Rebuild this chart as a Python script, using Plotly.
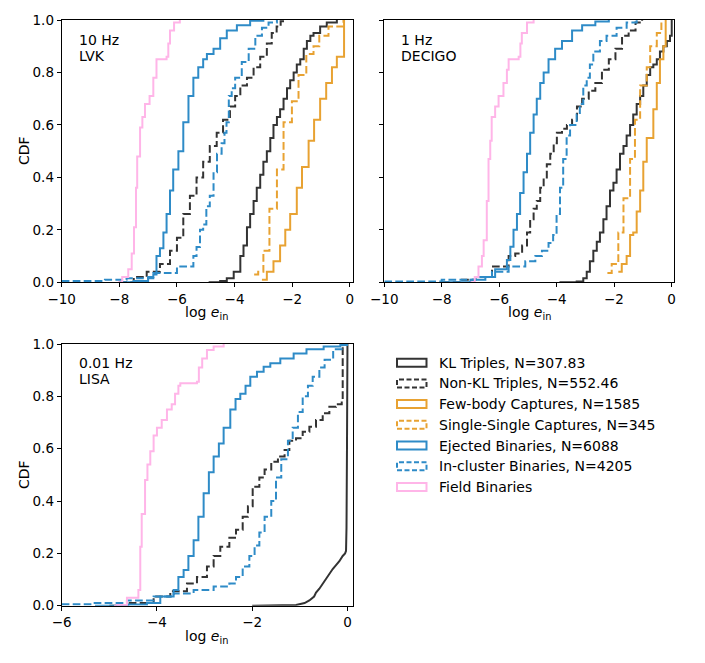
import plotly.graph_objects as go

# Cumulative distributions of log e_in (step CDFs).
# Each curve: x = bin edge where the CDF steps, y = CDF value after the step.

# ---- 10 Hz, LVK ----
lvk_kl_x = [-4.9, -4.5, -4.27, -4.03, -3.8, -3.69, -3.57, -3.46, -3.34, -3.23, -3.11, -3.0, -2.88, -2.76, -2.65,
            -2.53, -2.42, -2.3, -2.18, -2.07, -1.95, -1.84, -1.72, -1.6, -1.49, -1.37, -1.26, -1.03, -0.8, -0.45]
lvk_kl_y = [0.0, 0.005, 0.015, 0.04, 0.10, 0.14, 0.21, 0.26, 0.31, 0.36, 0.41, 0.46, 0.50, 0.55, 0.60,
            0.63, 0.66, 0.70, 0.74, 0.77, 0.80, 0.83, 0.85, 0.89, 0.92, 0.94, 0.95, 0.975, 0.99, 1.0]
lvk_nonkl_x = [-8.0, -7.5, -7.05, -6.59, -6.24, -6.0, -5.78, -5.55, -5.32, -5.09, -4.86, -4.62, -4.4, -4.16,
               -3.98, -3.8, -3.57, -3.34, -3.11, -2.88, -2.71, -2.54, -2.4, -2.24]
lvk_nonkl_y = [0.0, 0.02, 0.04, 0.07, 0.12, 0.17, 0.26, 0.33, 0.40, 0.46, 0.52, 0.57, 0.62, 0.67,
               0.71, 0.75, 0.78, 0.82, 0.86, 0.91, 0.95, 0.975, 0.995, 1.0]
lvk_few_x = [-3.05, -2.88, -2.65, -2.42, -2.24, -2.07, -1.84, -1.66, -1.43, -1.24, -1.03, -0.82, -0.62, -0.45, -0.2]
lvk_few_y = [0.01, 0.04, 0.08, 0.14, 0.20, 0.26, 0.36, 0.44, 0.54, 0.62, 0.70, 0.76, 0.82, 0.86, 1.0]
lvk_ss_x = [-3.32, -3.18, -3.0, -2.79, -2.53, -2.3, -2.01, -1.78, -1.51, -1.26, -1.06, -0.74, -0.22]
lvk_ss_y = [0.03, 0.04, 0.12, 0.28, 0.43, 0.61, 0.69, 0.79, 0.87, 0.90, 0.94, 0.975, 1.0]
lvk_ej_x = [-8.0, -7.5, -7.0, -6.82, -6.71, -6.59, -6.47, -6.36, -6.24, -6.13, -5.95, -5.78, -5.6, -5.43,
            -5.26, -5.09, -4.96, -4.73, -4.5, -4.27, -3.92, -3.46, -3.0]
lvk_ej_y = [0.0, 0.005, 0.02, 0.03, 0.10, 0.13, 0.19, 0.26, 0.35, 0.43, 0.50, 0.61, 0.71, 0.78,
            0.82, 0.85, 0.87, 0.89, 0.93, 0.96, 0.98, 0.997, 1.0]
lvk_in_x = [-10.0, -8.5, -7.75, -6.82, -6.0, -5.43, -5.32, -5.2, -5.09, -4.98, -4.86, -4.73, -4.61, -4.45,
            -4.35, -4.28, -4.2, -4.1, -3.98, -3.75, -3.51, -3.28, -3.05, -2.82, -2.53]
lvk_in_y = [0.005, 0.01, 0.015, 0.035, 0.06, 0.10, 0.135, 0.20, 0.22, 0.29, 0.33, 0.42, 0.49, 0.53,
            0.57, 0.61, 0.71, 0.74, 0.78, 0.84, 0.89, 0.94, 0.97, 0.99, 1.0]
lvk_field_x = [-8.05, -7.9, -7.69, -7.57, -7.49, -7.42, -7.38, -7.28, -7.2, -7.11, -6.95, -6.82, -6.71,
               -6.36, -6.3, -6.24, -6.1, -5.9]
lvk_field_y = [0.0, 0.02, 0.05, 0.11, 0.21, 0.36, 0.48, 0.59, 0.63, 0.68, 0.71, 0.78, 0.85,
               0.86, 0.91, 0.96, 0.99, 1.0]

# ---- 1 Hz, DECIGO ----
dec_kl_x = [-3.9, -3.3, -3.07, -2.95, -2.84, -2.72, -2.6, -2.49, -2.37, -2.26, -2.14, -2.02, -1.91, -1.79, -1.67,
            -1.56, -1.44, -1.33, -1.21, -1.09, -0.98, -0.86, -0.74, -0.63, -0.51, -0.4, -0.28, -0.16, -0.05, 0.01]
dec_kl_y = [0.0, 0.003, 0.015, 0.04, 0.08, 0.12, 0.155, 0.19, 0.24, 0.29, 0.35, 0.38, 0.43, 0.49, 0.52,
            0.56, 0.60, 0.64, 0.68, 0.71, 0.75, 0.79, 0.82, 0.83, 0.85, 0.88, 0.90, 0.92, 0.94, 1.0]
dec_nonkl_x = [-8.0, -7.3, -6.83, -6.25, -5.67, -5.44, -5.2, -5.03, -4.92, -4.8, -4.69, -4.57, -4.45, -4.34,
               -4.22, -4.1, -3.99, -3.81, -3.64, -3.46, -3.29, -3.11, -2.88, -2.65, -2.42, -2.18, -1.95,
               -1.72, -1.49, -1.25, -1.02]
dec_nonkl_y = [0.0, 0.01, 0.02, 0.06, 0.10, 0.11, 0.14, 0.19, 0.24, 0.28, 0.31, 0.36, 0.40, 0.45,
               0.49, 0.53, 0.57, 0.585, 0.60, 0.62, 0.67, 0.70, 0.73, 0.76, 0.81, 0.85, 0.89,
               0.94, 0.96, 0.99, 1.0]
dec_few_x = [-1.85, -1.73, -1.56, -1.44, -1.33, -1.21, -1.09, -0.98, -0.86, -0.63, -0.51, -0.4, -0.28, -0.2]
dec_few_y = [0.04, 0.07, 0.10, 0.18, 0.19, 0.27, 0.35, 0.46, 0.55, 0.66, 0.76, 0.85, 0.90, 1.0]
dec_ss_x = [-2.23, -2.08, -1.85, -1.67, -1.44, -1.27, -1.09, -0.86, -0.74, -0.51, -0.35]
dec_ss_y = [0.035, 0.07, 0.19, 0.32, 0.47, 0.62, 0.75, 0.82, 0.90, 0.95, 1.0]
dec_ej_x = [-8.0, -7.0, -6.48, -6.14, -5.73, -5.61, -5.5, -5.38, -5.27, -5.15, -5.03, -4.92, -4.8, -4.69,
            -4.57, -4.45, -4.28, -4.05, -3.81, -3.46, -3.11, -2.65, -2.18]
dec_ej_y = [0.0, 0.01, 0.02, 0.05, 0.085, 0.136, 0.20, 0.26, 0.34, 0.42, 0.49, 0.57, 0.64, 0.70,
            0.76, 0.80, 0.85, 0.89, 0.92, 0.96, 0.98, 0.994, 1.0]
dec_in_x = [-10.0, -8.0, -6.83, -6.25, -5.67, -5.09, -4.74, -4.51, -4.28, -4.12, -4.0, -3.88, -3.77, -3.65,
            -3.53, -3.3, -3.19, -3.07, -2.95, -2.84, -2.72, -2.49, -2.26, -1.91, -1.56, -1.21]
dec_in_y = [0.003, 0.01, 0.02, 0.04, 0.06, 0.08, 0.10, 0.12, 0.15, 0.18, 0.26, 0.36, 0.47, 0.56,
            0.60, 0.64, 0.68, 0.75, 0.78, 0.83, 0.88, 0.92, 0.94, 0.97, 0.99, 1.0]
dec_field_x = [-7.0, -6.85, -6.72, -6.6, -6.54, -6.43, -6.37, -6.31, -6.26, -6.14, -6.02, -5.85, -5.73,
               -5.67, -5.32, -5.26, -5.21, -5.03, -4.8]
dec_field_y = [0.0, 0.02, 0.06, 0.10, 0.16, 0.31, 0.47, 0.54, 0.63, 0.67, 0.71, 0.76, 0.81,
               0.85, 0.86, 0.91, 0.95, 0.99, 1.0]

# ---- 0.01 Hz, LISA ----
lisa_kl_x = [-2.0, -1.5, -1.08, -0.9, -0.8, -0.7, -0.66, -0.59, -0.52, -0.45, -0.38, -0.31, -0.24, -0.17,
             -0.1, -0.05, -0.03, -0.02, -0.01, 0.0]
lisa_kl_y = [0.0, 0.001, 0.003, 0.01, 0.02, 0.035, 0.05, 0.065, 0.085, 0.10, 0.12, 0.14, 0.155, 0.17,
             0.19, 0.20, 0.21, 0.30, 0.60, 1.0]
lisa_nonkl_x = [-5.0, -4.63, -4.07, -3.72, -3.37, -3.16, -2.95, -2.81, -2.67, -2.48, -2.34, -2.2, -2.09, -1.99,
                -1.85, -1.74, -1.6, -1.46, -1.32, -1.22, -1.08, -0.94, -0.8, -0.66, -0.52, -0.38, -0.24,
                -0.12, -0.1]
lisa_nonkl_y = [0.0, 0.01, 0.035, 0.055, 0.085, 0.11, 0.15, 0.19, 0.225, 0.26, 0.29, 0.34, 0.38, 0.455,
                0.49, 0.52, 0.55, 0.57, 0.595, 0.63, 0.64, 0.665, 0.684, 0.71, 0.735, 0.76, 0.77,
                0.786, 1.0]
lisa_ej_x = [-5.3, -4.6, -4.21, -3.93, -3.65, -3.55, -3.44, -3.34, -3.23, -3.13, -3.02, -2.91, -2.81, -2.7,
             -2.6, -2.46, -2.35, -2.25, -2.14, -2.04, -1.9, -1.76, -1.62, -1.41, -1.13, -0.86, -0.5, -0.15, -0.01]
lisa_ej_y = [0.0, 0.005, 0.01, 0.035, 0.06, 0.11, 0.136, 0.19, 0.25, 0.34, 0.43, 0.51, 0.57, 0.62,
             0.68, 0.75, 0.79, 0.81, 0.84, 0.875, 0.894, 0.913, 0.926, 0.945, 0.964, 0.98, 0.99, 0.996, 1.0]
lisa_in_x = [-6.0, -5.33, -4.63, -4.07, -3.65, -3.23, -2.81, -2.48, -2.34, -2.2, -2.06, -1.95, -1.85, -1.74,
             -1.6, -1.5, -1.39, -1.25, -1.15, -1.04, -0.94, -0.83, -0.73, -0.59, -0.48, -0.3, -0.1]
lisa_in_y = [0.006, 0.01, 0.02, 0.035, 0.047, 0.06, 0.073, 0.085, 0.11, 0.15, 0.19, 0.23, 0.28, 0.34,
             0.40, 0.49, 0.56, 0.63, 0.68, 0.74, 0.80, 0.84, 0.875, 0.91, 0.94, 0.98, 1.0]
lisa_field_x = [-4.9, -4.84, -4.63, -4.39, -4.35, -4.32, -4.25, -4.2, -4.14, -4.07, -4.0, -3.9, -3.79, -3.69,
                -3.62, -3.55, -3.51, -3.16, -3.12, -3.05, -2.95, -2.81, -2.6]
lisa_field_y = [0.0, 0.003, 0.03, 0.06, 0.225, 0.35, 0.48, 0.54, 0.59, 0.65, 0.68, 0.71, 0.75, 0.77,
                0.81, 0.84, 0.85, 0.856, 0.91, 0.945, 0.977, 0.99, 1.0]

legend_labels = ["KL Triples, N=307.83", "Non-KL Triples, N=552.46", "Few-body Captures, N=1585",
                 "Single-Single Captures, N=345", "Ejected Binaries, N=6088", "In-cluster Binaries, N=4205",
                 "Field Binaries"]

# style per population (same order as legend)
BLACK, ORANGE, BLUE, PINK = "#333333", "#E8A232", "#2E8BC7", "#FFB5E8"
styles = [(BLACK, "solid"), (BLACK, "7.7px,3.3px"), (ORANGE, "solid"), (ORANGE, "7.7px,3.3px"),
          (BLUE, "solid"), (BLUE, "7.7px,3.3px"), (PINK, "solid")]

panels = [
    ("x", "y", [(lvk_kl_x, lvk_kl_y), (lvk_nonkl_x, lvk_nonkl_y), (lvk_few_x, lvk_few_y), (lvk_ss_x, lvk_ss_y),
                (lvk_ej_x, lvk_ej_y), (lvk_in_x, lvk_in_y), (lvk_field_x, lvk_field_y)]),
    ("x2", "y2", [(dec_kl_x, dec_kl_y), (dec_nonkl_x, dec_nonkl_y), (dec_few_x, dec_few_y), (dec_ss_x, dec_ss_y),
                  (dec_ej_x, dec_ej_y), (dec_in_x, dec_in_y), (dec_field_x, dec_field_y)]),
    ("x3", "y3", [(lisa_kl_x, lisa_kl_y), (lisa_nonkl_x, lisa_nonkl_y), None, None,
                  (lisa_ej_x, lisa_ej_y), (lisa_in_x, lisa_in_y), (lisa_field_x, lisa_field_y)]),
]

W, H = 705, 663
FONT = "DejaVu Sans"


def px(x):
    return x / W


def py(y):
    return 1 - y / H


fig = go.Figure()

for xa, ya, curves in panels:
    for i, c in enumerate(curves):
        if c is None:
            continue
        color, dash = styles[i]
        shape = "linear" if (xa == "x3" and i == 0) else "hv"
        fig.add_trace(go.Scatter(
            x=c[0], y=c[1], xaxis=xa, yaxis=ya, mode="lines",
            line=dict(color=color, width=2, dash=dash, shape=shape),
            showlegend=False, hoverinfo="skip"
        ))

ax_common = dict(showline=True, mirror=True, linecolor="black", linewidth=1, ticks="outside",
                 ticklen=4, tickwidth=1, tickcolor="black", showgrid=False, zeroline=False,
                 automargin=False, tickfont=dict(family=FONT, size=13.5, color="black"))

top_dom = [py(282.3), py(20)]
bot_dom = [py(605.7), py(344)]
left_dom = [px(61.7), px(352.7)]
right_dom = [px(384.3), px(674.3)]

xt10 = [-10, -8, -6, -4, -2, 0]
xt6 = [-6, -4, -2, 0]
lab = lambda v: ("\u2212" + str(-v)) if v < 0 else str(v)

fig.update_layout(
    width=W, height=H, margin=dict(l=0, r=0, t=0, b=0, autoexpand=False),
    plot_bgcolor="white", paper_bgcolor="white",
    xaxis=dict(domain=left_dom, range=[-10, 0.1], anchor="y", tickvals=xt10,
               ticktext=[lab(v) for v in xt10], **ax_common),
    yaxis=dict(domain=top_dom, range=[0, 1], anchor="x", tickvals=[0, 0.2, 0.4, 0.6, 0.8, 1.0],
               tickformat=".1f", **ax_common),
    xaxis2=dict(domain=right_dom, range=[-10, 0.1], anchor="y2", tickvals=xt10,
                ticktext=[lab(v) for v in xt10], **ax_common),
    yaxis2=dict(domain=top_dom, range=[0, 1], anchor="x2", tickvals=[0, 0.2, 0.4, 0.6, 0.8, 1.0],
                showticklabels=False, **ax_common),
    xaxis3=dict(domain=left_dom, range=[-6, 0.11], anchor="y3", tickvals=xt6,
                ticktext=[lab(v) for v in xt6], **ax_common),
    yaxis3=dict(domain=bot_dom, range=[0, 1], anchor="x3", tickvals=[0, 0.2, 0.4, 0.6, 0.8, 1.0],
                tickformat=".1f", **ax_common),
)

txt = dict(family=FONT, size=14, color="black")
annots = []
# axis labels
for cx, cy in [(207, 313), (529, 313), (207, 637)]:
    annots.append(dict(x=px(cx), y=py(cy), xref="paper", yref="paper", showarrow=False,
                       text="log <i>e</i><sub>in</sub>", font=txt, xanchor="center", yanchor="middle"))
for cy in [151, 475]:
    annots.append(dict(x=px(24), y=py(cy), xref="paper", yref="paper", showarrow=False,
                       text="CDF", font=txt, textangle=-90, xanchor="center", yanchor="middle"))
# panel tags
for tx, ty, t in [(77, 40, "10 Hz"), (77, 55.5, "LVK"), (399, 40, "1 Hz"), (399, 55.5, "DECIGO"),
                  (77, 363, "0.01 Hz"), (77, 379, "LISA")]:
    annots.append(dict(x=px(tx), y=py(ty), xref="paper", yref="paper", showarrow=False,
                       text=t, font=txt, xanchor="left", yanchor="middle"))

# hand-drawn legend with outlined patches
shapes = []
for i, label in enumerate(legend_labels):
    yc = 362.7 + i * 20.7
    color, dash = styles[i]
    shapes.append(dict(type="rect", xref="paper", yref="paper", x0=px(397), x1=px(426.5),
                       y0=py(yc + 4), y1=py(yc - 4), line=dict(color=color, width=2,
                       dash="solid" if dash == "solid" else "5px,2.5px"), fillcolor="white"))
    annots.append(dict(x=px(436.7), y=py(yc), xref="paper", yref="paper", showarrow=False,
                       text=label, font=txt, xanchor="left", yanchor="middle"))

fig.update_layout(annotations=annots, shapes=shapes)

# page body margin would offset the figure; remove it
fig.write_html("out.html", config={"displayModeBar": False},
               post_script="document.body.style.margin='0';")
